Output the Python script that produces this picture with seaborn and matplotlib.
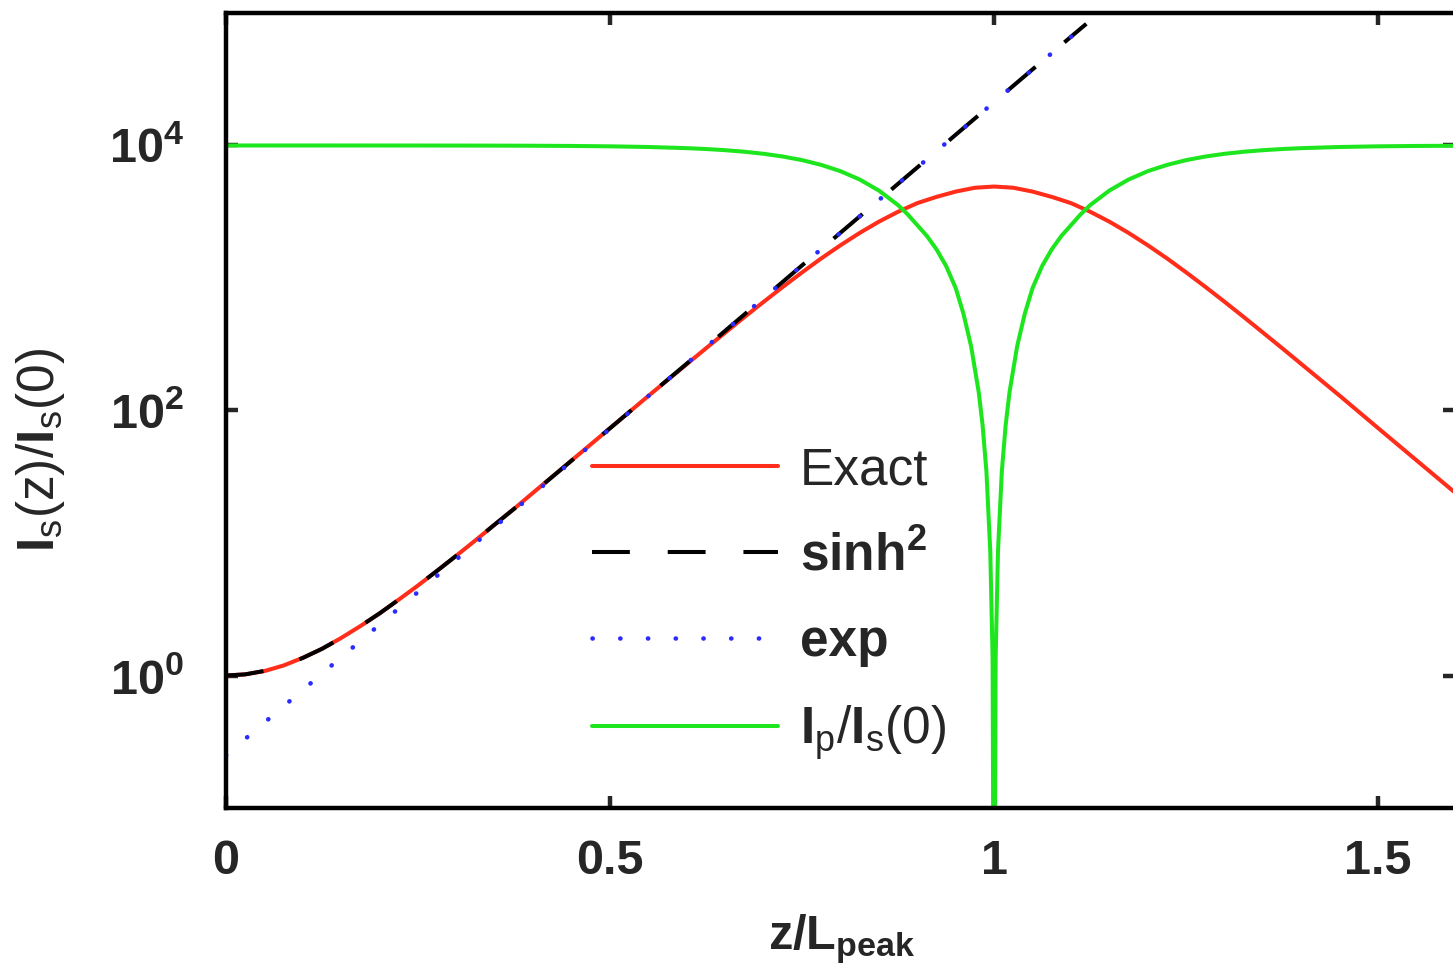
import matplotlib
matplotlib.use('Agg')
import matplotlib.pyplot as plt
import seaborn as sns
from matplotlib.ticker import NullLocator

# values
x_exact = [0, 0.025, 0.05, 0.075, 0.1, 0.125, 0.15, 0.175, 0.2, 0.225, 0.25, 0.275, 0.3, 0.325, 0.35,
           0.375, 0.4, 0.45, 0.5, 0.55, 0.6, 0.625, 0.65, 0.675, 0.7, 0.725, 0.75, 0.775, 0.8,
           0.825, 0.85, 0.875, 0.9, 0.925, 0.95, 0.975, 1.0, 1.025, 1.05, 1.075, 1.1, 1.125, 1.15, 1.175,
           1.2, 1.225, 1.25, 1.275, 1.3, 1.325, 1.35, 1.375, 1.4, 1.45, 1.5, 1.55, 1.6]
is_exact = [1, 1.02, 1.08, 1.19, 1.36, 1.59, 1.92, 2.36, 2.94, 3.74, 4.78, 6.18, 8.03, 10.5, 13.8,
            18.1, 24.0, 42.0, 73.5, 129, 224, 295, 387, 507, 661, 857, 1102, 1406, 1766,
            2188, 2661, 3162, 3673, 4093, 4487, 4797, 4898, 4797, 4487, 4093, 3673, 3162, 2661, 2188,
            1766, 1406, 1102, 857, 661, 507, 387, 295, 224, 129, 73.5, 42.0, 24.0]

x_sinh = [0, 0.025, 0.05, 0.075, 0.1, 0.125, 0.15, 0.175, 0.2, 0.225, 0.25, 0.275, 0.3, 0.325, 0.35,
          0.375, 0.4, 0.45, 0.5, 0.55, 0.6, 0.65, 0.7, 0.75, 0.8, 0.85, 0.9, 0.95, 1.0, 1.05, 1.1, 1.12]
is_sinh = [1, 1.02, 1.083, 1.19, 1.357, 1.59, 1.918, 2.36, 2.945, 3.74, 4.78, 6.18, 8.03, 10.5, 13.8,
           18.1, 23.9, 41.9, 73.5, 129, 226, 400, 705, 1245, 2195, 3870, 6825, 12050, 21240, 37500,
           66100, 82800]

x_exp = [0, 0.125, 0.25, 0.375, 0.5, 0.625, 0.75, 0.875, 1.0, 1.12]
is_exp = [0.25, 1.033, 4.27, 17.6, 72.9, 301, 1245, 5140, 21230, 82800]

x_pump = [0, 0.1, 0.2, 0.3, 0.35, 0.4, 0.45, 0.5, 0.55, 0.6, 0.625, 0.65, 0.675, 0.7, 0.725, 0.75,
          0.775, 0.8, 0.825, 0.85, 0.875, 0.8875, 0.9, 0.9125, 0.925, 0.9375, 0.95, 0.96, 0.97, 0.98,
          0.985, 0.99, 0.995, 0.998, 1.0, 1.002, 1.005, 1.01, 1.015, 1.02, 1.03, 1.04, 1.05, 1.0625,
          1.075, 1.0875, 1.1, 1.1125, 1.125, 1.15, 1.175, 1.2, 1.225, 1.25, 1.275, 1.3, 1.325, 1.35,
          1.375, 1.4, 1.45, 1.5, 1.55, 1.6]
ip_pump = [10000, 9999, 9996, 9986, 9974, 9953, 9916, 9852, 9739, 9545, 9400, 9212, 8967, 8652, 8252,
           7752, 7131, 6396, 5534, 4568, 3545, 3018, 2502, 2075, 1644, 1231, 839, 539, 306, 137,
           77.4, 34.5, 8.6, 1.38, 0.001, 1.38, 8.6, 34.5, 77.4, 137, 306, 539, 839, 1231,
           1644, 2075, 2502, 3018, 3545, 4568, 5534, 6396, 7131, 7752, 8252, 8652, 8967, 9212,
           9400, 9545, 9739, 9852, 9916, 9953]

x_ticks = [0, 0.5, 1, 1.5]
x_ticklabels = ['0', '0.5', '1', '1.5']
y_ticks = [1, 1e2, 1e4]
y_ticklabels = [r'$\mathbf{10^{0}}$', r'$\mathbf{10^{2}}$', r'$\mathbf{10^{4}}$']
legend_labels = ['Exact', r'$\mathbf{sinh^{2}}$', 'exp',
                 r'$\mathbf{I}_{\mathrm{p}}\mathrm{/}\mathbf{I}_{\mathrm{s}}\mathrm{(0)}$']

sns.set_style('ticks')
plt.rcParams['font.family'] = ['Liberation Sans', 'DejaVu Sans']
plt.rcParams['mathtext.fontset'] = 'custom'
plt.rcParams['mathtext.rm'] = 'Liberation Sans'
plt.rcParams['mathtext.bf'] = 'Liberation Sans:bold'
plt.rcParams['mathtext.it'] = 'Liberation Sans:italic'

fig = plt.figure(figsize=(14.53, 9.74), dpi=100)
ax = fig.add_axes([0.1555, 0.1704, 0.8459, 0.8163])

lw = 2.9
sns.lineplot(x=x_exact, y=is_exact, ax=ax, color='#ff2d1a', lw=lw, label=legend_labels[0])
sns.lineplot(x=x_sinh, y=is_sinh, ax=ax, color='black', lw=lw, linestyle=(0, (9.4, 9.4)),
             label=legend_labels[1])
sns.lineplot(x=x_exp, y=is_exp, ax=ax, color='#2b2bff', lw=3.3, linestyle=(0, (0.05, 6.0)),
             dash_capstyle='round', label=legend_labels[2])
sns.lineplot(x=x_pump, y=ip_pump, ax=ax, color='#1ee61e', lw=lw, label=legend_labels[3])

ax.set_yscale('log')
ax.set_xlim(0, 1.6)
ax.set_ylim(0.1, 1e5)
ax.set_xticks(x_ticks)
ax.set_xticklabels(x_ticklabels, fontweight='bold')
ax.set_yticks(y_ticks)
ax.set_yticklabels(y_ticklabels)
ax.yaxis.set_minor_locator(NullLocator())
ax.xaxis.set_minor_locator(NullLocator())
ax.tick_params(direction='in', length=8.5, width=3.2, top=True, right=True, labelsize=35)
ax.tick_params(axis='x', pad=22)
ax.tick_params(axis='y', pad=30)
for s in ax.spines.values():
    s.set_linewidth(3.2)
    s.set_color('black')

ax.set_xlabel(r'$\mathbf{z/L_{peak}}$', fontsize=35)
ax.xaxis.set_label_coords(0.501, -0.131)
ax.set_ylabel(r'$\mathbf{I}_{\mathrm{s}}\mathrm{(z)/}\mathbf{I}_{\mathrm{s}}\mathrm{(0)}$', fontsize=37)
ax.yaxis.set_label_coords(-0.129, 0.45)

leg = ax.legend(loc='center left', bbox_to_anchor=(592 / 1453, 1 - 604 / 974),
                bbox_transform=fig.transFigure, frameon=False, fontsize=37,
                handlelength=3.62, handletextpad=0.43, labelspacing=0.71,
                borderpad=0, borderaxespad=0)
leg.get_texts()[2].set_fontweight('bold')

fig.savefig('out.png', dpi=100)
